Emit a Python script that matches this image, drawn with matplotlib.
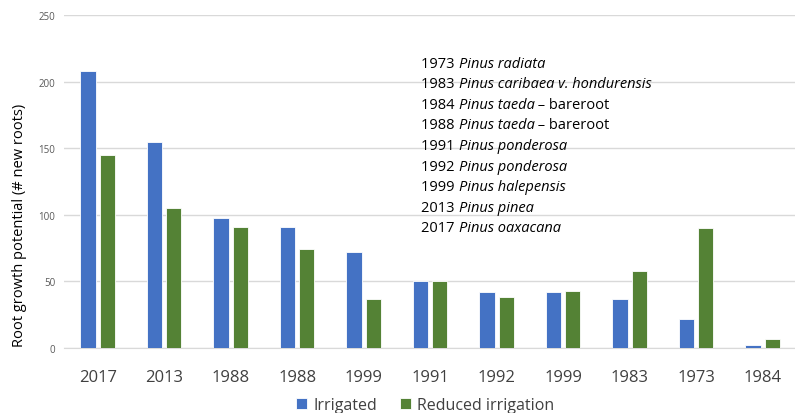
import matplotlib.pyplot as plt
import numpy as np

plt.rcParams['font.family'] = ['Open Sans', 'DejaVu Sans']

# Sample year of each group (x axis)
years = ['2017', '2013', '1988', '1988', '1999', '1991', '1992', '1999', '1983', '1973', '1984']
irrigated = [208, 155, 98, 91, 72, 50, 42, 42, 37, 22, 2]
reduced = [145, 105, 91, 74, 37, 50, 38, 43, 58, 90, 7]

# Species list shown in the note
note_years = ['1973', '1983', '1984', '1988', '1991', '1992', '1999', '2013', '2017']
note_species = ['Pinus radiata', 'Pinus caribaea v. hondurensis', 'Pinus taeda', 'Pinus taeda',
                'Pinus ponderosa', 'Pinus ponderosa', 'Pinus halepensis',
                'Pinus pinea', 'Pinus oaxacana']
note_suffix = ['', '', ' \u2013 bareroot', ' \u2013 bareroot',
               '', '', '', '', '']

fig = plt.figure(figsize=(7.95, 4.14), dpi=100)
ax = fig.add_axes([0.081, 0.157, 0.92, 0.804])

x = np.arange(len(years))
w = 0.23
ax.bar(x - w / 2 - 0.03, irrigated, w, color='#4472C4', edgecolor='white', linewidth=0.6,
       label='Irrigated', zorder=3)
ax.bar(x + w / 2 + 0.03, reduced, w, color='#548235', edgecolor='white', linewidth=0.6,
       label='Reduced irrigation', zorder=3)

ax.set_xlim(-0.5, len(years) - 0.5)
ax.set_ylim(0, 250)
ax.set_yticks(range(0, 251, 50))
ax.set_xticks(x)
ax.set_xticklabels(years, fontsize=12, color='#404040')
ax.tick_params(axis='y', labelsize=7, colors='#595959', length=0, pad=6.5)
ax.tick_params(axis='x', length=0, pad=15)
ax.grid(axis='y', color='#d9d9d9', linewidth=1, zorder=0)
for s in ['top', 'right', 'left']:
    ax.spines[s].set_visible(False)
ax.spines['bottom'].set_color('#d9d9d9')
ax.set_ylabel('Root growth potential (# new roots)', fontsize=10.5, color='black')
ax.yaxis.set_label_coords(-0.051, 0.372)

# Note with species names
y0 = 0.845
for i, (yr, sp, suf) in enumerate(zip(note_years, note_species, note_suffix)):
    yy = y0 - i * 0.0618
    t = ax.text(0.488, yy, yr + ' ', transform=ax.transAxes, fontsize=10.5, color='black',
                va='baseline', zorder=5)
    t2 = ax.annotate(sp, xy=(1, 0), xycoords=t, fontsize=10.5, style='italic',
                     va='bottom', zorder=5)
    if suf:
        ax.annotate(suf, xy=(1, 0), xycoords=t2, fontsize=10.5, va='bottom', zorder=5)

fig.legend(loc='lower center', bbox_to_anchor=(0.535, -0.035), ncol=2, frameon=False,
           fontsize=11.5, handlelength=0.7, handleheight=0.7, handletextpad=0.4,
           columnspacing=1.4, labelcolor='#404040')

fig.savefig('out.png', dpi=100)
